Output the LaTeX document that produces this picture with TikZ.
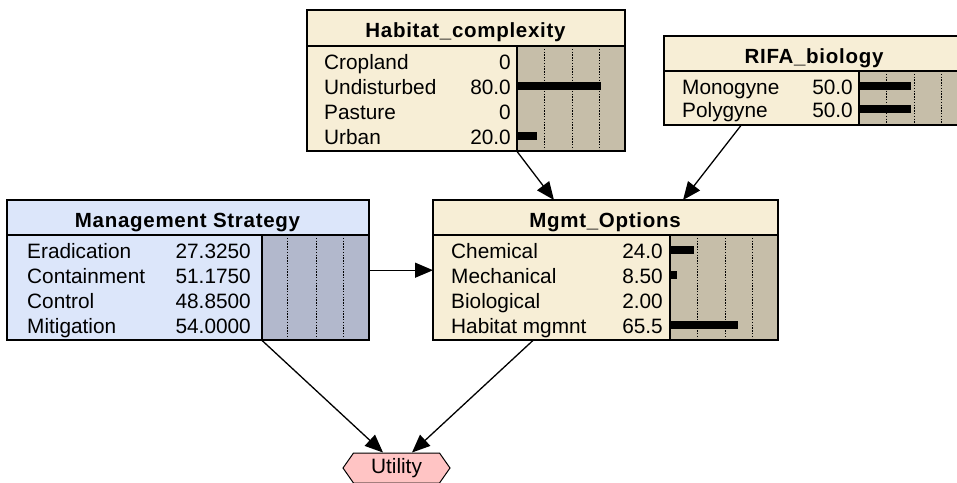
\documentclass[tikz,border=0pt]{standalone}
\usepackage{fontspec}
\setmainfont{Liberation Sans}
\newfontfamily\headfont[LetterSpace=3.5]{Liberation Sans}
\usetikzlibrary{calc,shapes.symbols,arrows.meta}

\definecolor{nodecream}{HTML}{F7EED6}
\definecolor{barcream}{HTML}{C6BEA9}
\definecolor{nodeblue}{HTML}{DCE6FA}
\definecolor{barblue}{HTML}{B2B8CC}
\definecolor{utilpink}{HTML}{FFC4C4}

\tikzset{
  netnode/.style={rectangle,draw=black,line width=1.4pt,inner sep=0pt,anchor=north west},
  border/.style={draw=black,line width=1.4pt},
  sepline/.style={draw=black,line width=1.4pt},
  gridline/.style={draw=black,line width=0.9pt,dash pattern=on 1.4pt off 1.4pt},
  headtxt/.style={inner sep=0pt,anchor=base,font=\headfont\fontsize{20.5}{22}\selectfont\bfseries},
  rowtxt/.style={inner sep=0pt,font=\fontsize{20.8}{23}\selectfont},
  conn/.style={line width=1.3pt,-{Triangle[length=18pt,width=15pt]}},
  utilnode/.style={signal,signal to=east and west,signal pointer angle=110,
    draw=black,line width=1pt,fill=utilpink,inner sep=0pt,
    minimum width=107pt,minimum height=30pt,font=\fontsize{20.8}{23}\selectfont},
}

% one state row: bar x, label x, value x, baseline, label, value, bar length
\newcommand{\staterow}[7]{%
  \node[rowtxt,anchor=base west] at (#2,#4) {#5};
  \node[rowtxt,anchor=base east] at (#3,#4) {#6};
  \fill[black] (#1,#4-12) rectangle ++(#7,8);
}
% the three dotted gauge lines of a bar area
\newcommand{\gaugelines}[3]{%
  \foreach \d in {27.5,55,82.5} \draw[gridline] (#1+\d,#2) -- (#1+\d,#3);
}

\begin{document}
\begin{tikzpicture}[x=1pt,y=-1pt]
\useasboundingbox (0,0) rectangle (957,482);
\clip (0,0) rectangle (957,482);

% ---------- Habitat_complexity ----------
\node[netnode,fill=nodecream,minimum width=317pt,minimum height=140pt] (hab) at (307,10) {};
\begin{scope}[shift={(hab.north west)}]
  \fill[barcream] (210,36) rectangle (317,140);
  \gaugelines{210}{36}{140}
  \draw[sepline] (0,36) -- (317,36);
  \draw[sepline] (210,36) -- (210,140);
  \node[headtxt] at (158.5,27.5) {Habitat\_complexity};
  \staterow{210}{17}{204}{59}{Cropland}{0}{0}
  \staterow{210}{17}{204}{84}{Undisturbed}{80.0}{84}
  \staterow{210}{17}{204}{109}{Pasture}{0}{0}
  \staterow{210}{17}{204}{134}{Urban}{20.0}{20}
\end{scope}
\draw[border] (hab.north west) rectangle (hab.south east);

% ---------- RIFA_biology ----------
\node[netnode,fill=nodecream,minimum width=310pt,minimum height=88pt] (rifa) at (664,36) {};
\begin{scope}[shift={(rifa.north west)}]
  \fill[barcream] (195,35) rectangle (310,88);
  \gaugelines{195}{35}{88}
  \draw[sepline] (0,35) -- (310,35);
  \draw[sepline] (195,35) -- (195,88);
  \node[headtxt] at (150,27) {RIFA\_biology};
  \staterow{195}{18}{189}{58}{Monogyne}{50.0}{52}
  \staterow{195}{18}{189}{81}{Polygyne}{50.0}{52}
\end{scope}
\draw[border] (rifa.north west) rectangle (rifa.south east);

% ---------- Management Strategy ----------
\node[netnode,fill=nodeblue,minimum width=361pt,minimum height=139pt] (strat) at (7,200) {};
\begin{scope}[shift={(strat.north west)}]
  \fill[barblue] (255,35) rectangle (361,139);
  \foreach \d in {25,54,81} \draw[gridline] (255+\d,35) -- (255+\d,139);
  \draw[sepline] (0,35) -- (361,35);
  \draw[sepline] (255,35) -- (255,139);
  \node[headtxt] at (180.5,27) {Management Strategy};
  \staterow{255}{20}{244}{58}{Eradication}{27.3250}{0}
  \staterow{255}{20}{244}{83}{Containment}{51.1750}{0}
  \staterow{255}{20}{244}{108}{Control}{48.8500}{0}
  \staterow{255}{20}{244}{133}{Mitigation}{54.0000}{0}
\end{scope}
\draw[border] (strat.north west) rectangle (strat.south east);

% ---------- Mgmt_Options ----------
\node[netnode,fill=nodecream,minimum width=344pt,minimum height=139pt] (opts) at (433,200) {};
\begin{scope}[shift={(opts.north west)}]
  \fill[barcream] (237,35) rectangle (344,139);
  \gaugelines{237}{35}{139}
  \draw[sepline] (0,35) -- (344,35);
  \draw[sepline] (237,35) -- (237,139);
  \node[headtxt] at (172,27) {Mgmt\_Options};
  \staterow{237}{18}{230}{58}{Chemical}{24.0}{24}
  \staterow{237}{18}{230}{83}{Mechanical}{8.50}{7}
  \staterow{237}{18}{230}{108}{Biological}{2.00}{0}
  \staterow{237}{18}{230}{133}{Habitat mgmnt}{65.5}{68}
\end{scope}
\draw[border] (opts.north west) rectangle (opts.south east);

% ---------- Utility ----------
\node[utilnode] (util) at (396.5,468) {Utility};

% ---------- links ----------
\coordinate (hab-out)   at ($(hab.south west)+(210,0)$);
\coordinate (rifa-out)  at ($(rifa.south west)+(77,0)$);
\coordinate (strat-out) at ($(strat.east)+(1,0)$);
\coordinate (strat-dn)  at ($(strat.south west)+(255,0)$);
\coordinate (opts-dn)   at ($(opts.south west)+(100,0)$);
\coordinate (opts-in1)  at ($(opts.north west)+(121,0)$);
\coordinate (opts-in2)  at ($(opts.north west)+(250,0)$);
\coordinate (opts-in3)  at (opts.west |- strat-out);
\coordinate (util-in1)  at ($(util.north)+(-13.5,0)$);
\coordinate (util-in2)  at ($(util.north)+(15.5,0)$);

\draw[conn] (hab-out) -- (opts-in1);
\draw[conn] (rifa-out) -- (opts-in2);
\draw[conn] (strat-out) -- (opts-in3);
\draw[conn] (strat-dn) -- (util-in1);
\draw[conn] (opts-dn) -- (util-in2);
\end{tikzpicture}
\end{document}
